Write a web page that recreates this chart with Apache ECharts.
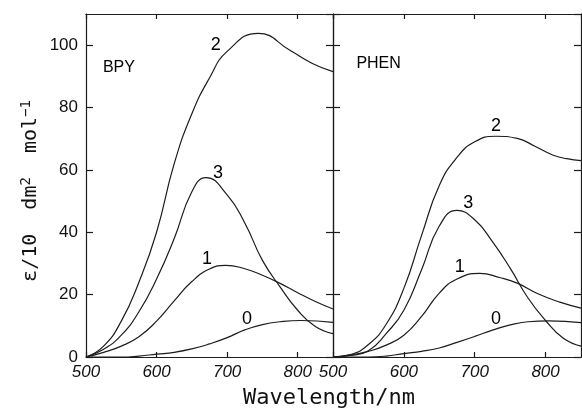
<!DOCTYPE html>
<html>
<head>
<meta charset="utf-8">
<script src="https://cdn.jsdelivr.net/npm/echarts@6/dist/echarts.min.js"></script>
<style>
html,body{margin:0;padding:0;background:#fff;}
#c{width:582px;height:411px;}
</style>
</head>
<body>
<div id="c"></div>
<script>
// Curves as [wavelength (nm), epsilon / 10 dm^2 mol^-1]
// BPY panel
var bpy0 = [[500,0],[550,0],[575,0.3],[600,0.9],[625,1.5],[650,2.6],[675,4.2],[700,6.2],[725,8.7],[750,10.4],[775,11.3],[805,11.7],[850,11.1]];
var bpy1 = [[500,0],[525,1.5],[550,3.5],[575,6.5],[600,11.5],[625,18],[650,24.2],[675,28.2],[698,29.4],[725,28.3],[750,26.2],[775,23.6],[800,20.6],[825,17.8],[850,15.4]];
var bpy2 = [[500,0],[525,3.5],[550,11.5],[575,24],[600,40],[625,62],[650,78],[675,89.5],[700,98],[744,103.8],[790,98.2],[820,94.2],[850,91.5]];
var bpy3 = [[500,0],[525,2.5],[550,7],[575,14.5],[600,25],[625,38],[650,53],[670,57.5],[700,52],[725,43],[750,31],[775,22.5],[800,15],[825,9.8],[850,7.5]];
// PHEN panel
var phen0 = [[500,0],[550,0],[575,0.3],[600,1.1],[625,1.8],[650,2.9],[675,4.7],[700,6.6],[725,8.6],[750,10.3],[775,11.3],[805,11.6],[850,11]];
var phen1 = [[500,0],[525,0.7],[550,1.8],[575,3.8],[600,7],[625,13],[650,20.5],[675,25],[707,26.8],[735,25.5],[760,23.7],[790,20.2],[820,17.6],[850,15.7]];
var phen2 = [[500,0],[525,0.8],[550,4],[575,10.5],[600,22],[625,39],[650,55],[675,64],[700,69],[730,70.8],[760,70.1],[785,67.6],[810,64.8],[830,63.6],[850,63]];
var phen3 = [[500,0],[525,0.5],[550,2],[575,7.5],[600,15],[625,28],[650,42],[675,47],[700,44],[725,37],[750,28.5],[775,19],[800,11.7],[825,6],[850,3.5]];
// Axis ticks
var xMin = 500, xMax = 850, xStep = 100;
var yMin = 0, yMax = 110, yStep = 20;
// Curve labels (anchor in data units)
var bpyLabels = [['2',684,100],['3',687,59],['1',671.5,31.5],['0',728,12.3]];
var phenLabels = [['2',730,74],['3',691,49.5],['1',679,28.7],['0',730,12.3]];
var panelNames = [['BPY',524,92.7],['PHEN',533,94]];

var ink = '#1c1c1c';

function xAx(gi, pos, labels){
  return {type:'value', gridIndex:gi, position:pos, min:xMin, max:xMax, interval:xStep,
    axisLine:{show:true, onZero:false, lineStyle:{color:ink, width:1.2}},
    axisTick:{show:true, inside:true, length:5, lineStyle:{color:ink, width:1.2}},
    axisLabel:{show:labels, showMaxLabel:false, margin:7, color:'#111',
      fontFamily:'Liberation Sans', fontSize:17, fontStyle:'italic'},
    splitLine:{show:false}};
}
function yAx(gi, pos, labels){
  return {type:'value', gridIndex:gi, position:pos, min:yMin, max:yMax, interval:yStep,
    axisLine:{show:true, onZero:false, lineStyle:{color:ink, width:1.2}},
    axisTick:{show:true, inside:true, length:7, lineStyle:{color:ink, width:1.2}},
    axisLabel:{show:labels, showMaxLabel:false, margin:8, color:'#111',
      fontFamily:'Liberation Sans', fontSize:17},
    splitLine:{show:false}};
}
function line(xi, yi, pts){
  return {type:'line', xAxisIndex:xi, yAxisIndex:yi, data:pts, smooth:0.5,
    showSymbol:false, symbol:'none', silent:true,
    lineStyle:{color:ink, width:1.2}};
}
function labels(xi, yi, arr, size, align){
  return {type:'scatter', xAxisIndex:xi, yAxisIndex:yi, symbolSize:0, silent:true,
    data:arr.map(function(a){ return {name:a[0], value:[a[1],a[2]]}; }),
    label:{show:true, position:'inside', formatter:'{b}', color:'#000', opacity:1,
      fontFamily:'Liberation Sans', fontSize:size, align:align}};
}

var chart = echarts.init(document.getElementById('c'), null, {renderer:'canvas'});
chart.setOption({
  backgroundColor:'#ffffff',
  animation:false,
  grid:[
    {left:86, top:14, width:247, height:343},
    {left:333, top:14, width:248, height:343}
  ],
  xAxis:[xAx(0,'bottom',true), xAx(0,'top',false), xAx(1,'bottom',true), xAx(1,'top',false)],
  yAxis:[yAx(0,'left',true), yAx(0,'right',false), yAx(1,'left',false), yAx(1,'right',false)],
  series:[
    line(0,0,bpy0), line(0,0,bpy1), line(0,0,bpy2), line(0,0,bpy3),
    line(2,2,phen0), line(2,2,phen1), line(2,2,phen2), line(2,2,phen3),
    labels(0,0,bpyLabels,18,'center'), labels(2,2,phenLabels,18,'center'),
    labels(0,0,[panelNames[0]],16,'left'), labels(2,2,[panelNames[1]],16,'left')
  ],
  graphic:[
    {type:'text', x:329, y:398, style:{text:'Wavelength/nm', fill:'#111',
      font:'22px "DejaVu Sans Mono"', textAlign:'center', textVerticalAlign:'middle'}},
    {type:'text', x:31, y:191, rotation:Math.PI/2,
      style:{text:'ε/10  dm{s|2}  mol{s|−1}', fill:'#111', align:'center', verticalAlign:'middle',
        fontFamily:'DejaVu Sans Mono', fontSize:20,
        rich:{s:{fontFamily:'DejaVu Sans Mono', fontSize:14, verticalAlign:'top', padding:[0,0,10,0]}}}}
  ]
});
</script>
</body>
</html>
